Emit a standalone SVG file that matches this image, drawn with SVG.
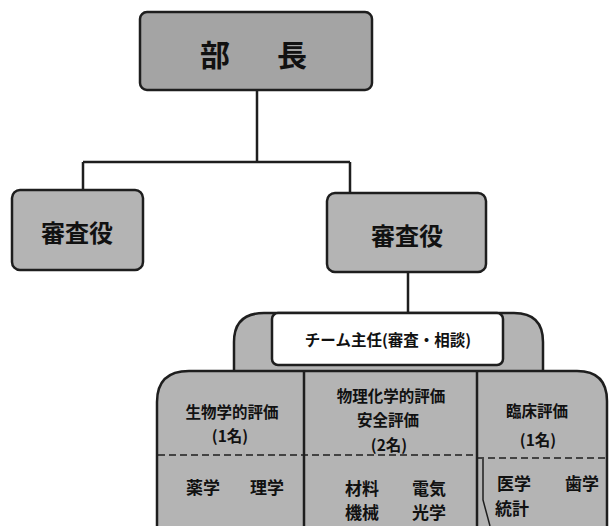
<svg xmlns="http://www.w3.org/2000/svg" width="610" height="526" viewBox="0 0 610 526">
<style>
.box{fill:#b4b4b4;stroke:#1e1e1e;stroke-width:2.5}
.dark{fill:#a4a4a4}
.ln{fill:none;stroke:#1e1e1e;stroke-width:2.5}
.dash{fill:none;stroke:#1e1e1e;stroke-width:1.6;stroke-dasharray:7 4}
text{font-family:"Noto Sans CJK JP","Noto Sans CJK SC",sans-serif;font-weight:bold;fill:#111;text-anchor:middle}
.big{font-size:30px}
.mid{font-size:24px}
.sm{font-size:15.5px}
.wd{font-size:17px}
</style>
<rect width="610" height="526" fill="#fff"/>
<g id="connectors">
<path class="ln" d="M257,90 V162 M83,162 H350 M83,162 V190 M350,162 V193 M408,272 V313"/>
</g>
<g id="bucho">
<rect class="box dark" x="140" y="12" width="232" height="78" rx="7"/>
<text class="big" x="215" y="66">部</text>
<text class="big" x="292" y="66">長</text>
</g>
<g id="shinsayaku1">
<rect class="box" x="12" y="190" width="131" height="80" rx="8"/>
<text class="mid" x="77" y="242">審査役</text>
</g>
<g id="shinsayaku2">
<rect class="box" x="327" y="193" width="159" height="79" rx="8"/>
<text class="mid" x="407" y="245">審査役</text>
</g>
<g id="team-chief">
<path class="box" d="M234,372 V342 Q234,313 264,313 H514 Q543,313 543,342 V372 Z"/>
<rect x="272" y="313" width="231" height="52" rx="6" fill="#fff" stroke="#1e1e1e" stroke-width="2.5"/>
<text class="sm" x="388" y="346">チーム主任(審査・相談)</text>
</g>
<g id="teams">
<path class="box" d="M157,528 V402 Q157,371 189,371 H577 Q607,371 607,401 V528"/>
<path class="ln" d="M304,371 V528 M477,371 V528"/>
<path class="dash" d="M158,455 H477 M477,458 H606"/>
<path fill="none" stroke="#1e1e1e" stroke-width="1.5" d="M483,459 V500 L490,526"/>
</g>
<g id="bio">
<text class="sm" x="232" y="418">生物学的評価</text>
<text class="sm" x="230" y="442">(1名)</text>
<text class="wd" x="203" y="494">薬学</text>
<text class="wd" x="267" y="494">理学</text>
</g>
<g id="physchem">
<text class="sm" x="391" y="402">物理化学的評価</text>
<text class="sm" x="388" y="426">安全評価</text>
<text class="sm" x="389" y="451">(2名)</text>
<text class="wd" x="362" y="495">材料</text>
<text class="wd" x="429" y="495">電気</text>
<text class="wd" x="362" y="519">機械</text>
<text class="wd" x="429" y="519">光学</text>
</g>
<g id="clinical">
<text class="sm" x="537" y="417">臨床評価</text>
<text class="sm" x="538" y="446">(1名)</text>
<text class="wd" x="514" y="490">医学</text>
<text class="wd" x="582" y="490">歯学</text>
<text class="wd" x="512" y="515">統計</text>
</g>
</svg>
